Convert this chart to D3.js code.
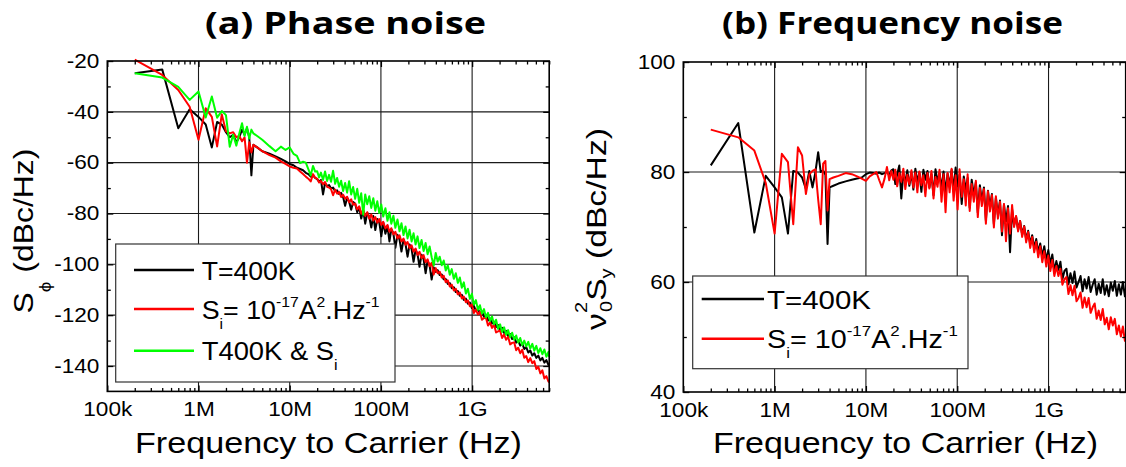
<!DOCTYPE html>
<html>
<head>
<meta charset="utf-8">
<script src="https://cdn.jsdelivr.net/npm/d3@7"></script>
<style>
  body { margin: 0; background: #fff; }
  svg text { font-family: "Liberation Sans", Arial, sans-serif; fill: #000; white-space: pre; }
</style>
</head>
<body>
<svg id="chart" width="1126" height="467"></svg>
<script>
// ---- frequency grids (MHz) ----
var freqLow = [0.2,0.4,0.6,0.8,1.0,1.2,1.4,1.6,1.8,2.0,2.2,2.4,2.6,2.8,3.0,3.2,3.4,3.6,3.8,4.0,
               4.4,5,6,7,8,9,10,11,12,13,14,15,16,17,18,19];
var freqHigh = [20,21,22,23.2,24.4,25.7,27,28.4,29.9,31.5,
                33.1,34.8,36.6,38.5,40.5,42.6,44.8,47.2,49.6,52.2,
                55,57.8,60.8,64,67.3,70.8,74.5,78.4,82.5,86.8,
                91.3,96,101,106,112,118,124,130,137,144,
                152,160,168,177,186,196,206,217,228,240,
                252,265,279,294,309,325,342,360,379,399,
                419,441,464,488,514,541,569,598,630,662,
                697,733,771,811,854,898,945,994,1046,1100,
                1158,1218,1282,1349,1419,1493,1571,1653,1739,1830,
                1925,2026,2131,2242,2359,2482,2612,2748,2891,3042,
                3200,3367,3543,3728,3922,4126,4341,4568,4806,5057,
                5320,5598,5890,6197,6520,6860,7000];

// ---- (a) phase noise, dBc/Hz ----
var phaseBlackLow = [-24.8,-23.3,-46.5,-39,-42,-45,-54,-44,-45,-48,
                     -50,-49,-52,-50,-47,-49,-46.5,-50,-65,-53,
                     -54,-55.5,-56.5,-57.5,-58.5,-59.5,-60.5,-61,-62,-62.5,
                     -63,-64,-64.5,-65.5,-65,-66];
var phaseBlackHigh = [-66.5,-67.5,-66.8,-72.5,-68,-69.2,-68.8,-70.2,-69.8,-71.2,
                      -70.9,-72.3,-71.9,-73.5,-77,-73.8,-75.3,-78.5,-75.5,-76.2,
                      -79.5,-77.5,-82,-78.8,-84,-79.7,-81.3,-85.5,-81,-86.5,
                      -82.2,-83.5,-89,-83.5,-88,-84.9,-91,-86.2,-87.8,-93.5,
                      -88.4,-90.3,-95,-90.3,-92,-97,-92.2,-94,-99,-94.2,
                      -96,-101,-96.2,-98,-103.5,-98.6,-100.5,-106,-101.2,-103,
                      -102.3,-104.2,-104,-105.9,-105.8,-107.7,-107.4,-109.4,-109,-110.9,
                      -110.5,-112.4,-112,-114,-113.5,-115.5,-115,-117.2,-116.3,-118.3,
                      -117.4,-119.4,-118.6,-120.6,-119.9,-122.1,-121.3,-123.3,-122.6,-124.7,
                      -123.9,-125.9,-125,-127,-126.2,-128.2,-127.4,-129.4,-128.7,-130.8,
                      -130,-132,-131.2,-133.3,-132.6,-134.7,-133.9,-135.9,-135,-136.8,
                      -135.9,-137.8,-136.8,-138.7,-137.7,-139.6,-138.8];
var phaseRedLow = [-19.5,-25.5,-31.4,-38,-51,-38.6,-42,-53.6,-41,-47.6,
                   -48.5,-48,-50,-49.5,-51.6,-50,-60,-52,-56,-53,
                   -54,-55.5,-57,-58,-59.5,-60.5,-61.5,-62,-62.3,-63.5,
                   -64.5,-65.5,-66.3,-67.4,-64.5,-66];
var phaseRedHigh = [-66.3,-67.8,-67.2,-68.5,-67.6,-69.5,-69.8,-70.4,-72.8,-70.6,
                    -72.2,-71.5,-73.5,-72.6,-74.2,-73.4,-75.6,-74.4,-76.5,-76.1,
                    -78.4,-77.2,-80.1,-78.5,-81,-79.5,-82,-80.4,-82.8,-81.4,
                    -83.6,-82.2,-84.5,-83.3,-85.9,-84.5,-87.2,-85.8,-88.2,-87.2,
                    -89.8,-88.6,-91,-89.9,-92.3,-91.2,-93.6,-92.5,-95,-93.8,
                    -96.3,-95.1,-97.6,-96.4,-99.2,-98,-100.7,-99.4,-104,-101.5,
                    -103.5,-102.9,-105.2,-104.5,-107,-106.3,-108.7,-108,-110.3,-109.6,
                    -111.8,-111.1,-113.4,-112.7,-114.9,-114.2,-116.5,-115.8,-119.2,-117.8,
                    -119.7,-118.7,-121.8,-121.1,-121,-124.1,-122.9,-125,-123.7,-126.8,
                    -126.4,-126,-129,-127.6,-129.7,-128.5,-131.5,-130.9,-130.7,-133.8,
                    -132.8,-135,-133.6,-136.8,-136.1,-138.5,-136.9,-138.9,-138.1,-141.2,
                    -140.3,-142.9,-141.7,-144.9,-144,-146.1,-146.5];
var phaseGreenLow = [-24.8,-26.5,-30.2,-35.3,-32,-42.2,-34,-42.3,-39.7,-41.3,
                     -53.7,-49,-53.3,-48.5,-44.5,-49.5,-45.9,-50.5,-47,-48.5,
                     -49.5,-51,-53.5,-55.5,-53.7,-55,-54,-56.5,-57.3,-60.2,
                     -59.6,-60,-62.5,-65,-61.3,-63.5];
var phaseGreenHigh = [-63.4,-65.8,-63.9,-66.8,-63.5,-67.2,-64.8,-67.5,-63.2,-68.3,
                      -66,-69.5,-67.1,-71.2,-68,-71.8,-67.3,-72.5,-69.6,-74.2,
                      -70.3,-75.8,-72,-80.5,-72.5,-76.4,-73.2,-77.8,-74,-78.9,
                      -75.2,-79.8,-76.5,-81.2,-77.9,-82.9,-79.5,-84,-80.9,-85.6,
                      -82.4,-87,-83.8,-88.5,-85.1,-89.8,-86.4,-91,-87.8,-92.2,
                      -89,-93.6,-90.4,-94.8,-91.6,-96,-93,-97.2,-100.5,-95.5,
                      -98.9,-97,-100.4,-98.5,-102.4,-100.4,-104.1,-101.9,-105.7,-103.5,
                      -107.3,-105.2,-109.2,-107.1,-111.5,-109.6,-113.6,-111.6,-115.9,-114.1,
                      -117.9,-116.1,-119.4,-117.6,-120.9,-119.1,-122.3,-120.5,-123.6,-121.8,
                      -125.4,-123.6,-126.6,-124.8,-127.7,-125.9,-128.7,-126.9,-129.7,-128,
                      -130.8,-129,-131.8,-130,-132.3,-130.5,-133.2,-131.3,-134,-132.1,
                      -134.9,-133,-135.4,-133.5,-136.4,-134.5,-136.4];

// ---- (b) frequency noise, dBc/Hz ----
var fnBlackLow = [81.2,88.9,69,79.3,77.2,75.4,68.8,80.2,79.9,79,
                  76.9,80.2,77.2,80,83.6,80,80.3,79.5,66.9,77.2,
                  77.5,77.9,78.3,78.6,78.8,79,79.6,79.9,79.8,79.7,
                  79.9,79.6,79.8,80,79.4,80.3];
var fnBlackHigh = [80.5,77.8,79.6,81.2,75.2,79.8,78.1,80.3,77.5,79.9,
                   76.8,80.6,78.2,79.9,76.4,80.4,78.6,80.2,77.2,79.6,
                   75.8,80.5,78.3,79.8,77,80.1,76.2,79.7,77.5,80.4,
                   76.6,80.8,77.4,79.5,74.2,79.2,76.8,78.9,73.5,78.6,
                   75.9,78.1,72.6,77.6,74.7,77.2,71.2,76.6,73.6,76,
                   70.5,75.3,72.2,74.8,68.5,74.1,71,73.8,65.4,73.2,
                   70.3,71.9,69.5,71.1,68.6,70.2,67.7,69.3,66.9,68.5,
                   66.2,67.8,65.4,67,64.6,66.5,63.9,65.8,63.2,65,
                   62,63.8,62.2,63.7,60.5,62,62.4,59.6,61.6,59.8,
                   61.9,59,60,61.1,58.3,60.5,58.8,60.9,58.2,59.5,
                   60.5,57.7,59.7,58,60.5,57.7,59.4,57.4,59.9,58.4,
                   60.2,57.5,59.6,57.7,60,57.4,58.8];
var fnRedLow = [87.7,86.3,83.9,78,68.8,83.3,81.8,70.5,84.5,83,
                76,79.6,80.2,80.5,75,70.5,81.5,82,73,78.7,
                79,79.3,79.8,79.6,79.2,78.8,78.4,79.2,79.6,80,
                78.5,77.2,78.8,80.9,78.5,80.2];
var fnRedHigh = [78.6,80.4,77.4,79.8,78.2,80.6,76.9,79.5,77.8,80.3,
                 77.2,79.9,76.3,80.1,77.6,79.4,75.6,79.8,77,80.2,
                 75.2,79.1,77.3,80.4,74.6,79.6,72.7,79.8,76.3,80.6,
                 74.8,79.4,73.2,80.5,75.5,78.7,73.9,79.6,72.9,77.8,
                 74.6,78.4,71.8,77.1,73.8,76.9,70.6,76.5,72.8,75.8,
                 69.9,75.6,71.5,74.6,69.2,74.2,67.4,73.4,68.8,74,
                 70,72,69.2,71.1,68.2,70.1,67.2,69.1,66.2,68.2,
                 65.4,67.3,64.5,66.5,63.6,65.6,62.8,64.8,62,64,
                 61.1,62.9,61.1,62.4,59.5,60.5,60.9,57.8,59.4,57.6,
                 59.3,56.5,57.1,58.1,55.3,57.2,55.4,57.1,54.4,55.4,
                 56.1,53.3,54.8,53.1,55.1,52.3,53.5,51.4,53.6,52.1,
                 53.3,50.5,52.1,50.1,51.9,49.3,50.5];

// ---- axes ----
var xMajor = [1e5, 1e6, 1e7, 1e8, 1e9];
var xLabels = ["100k", "1M", "10M", "100M", "1G"];
var xGrid = [1e6, 1e7, 1e8, 1e9];
var phaseYMajor = [-140, -120, -100, -80, -60, -40, -20];
var phaseYMinor = [-130, -110, -90, -70, -50, -30];
var phaseYGrid = [-140, -120, -100, -80, -60, -40];
var fnYMajor = [40, 60, 80, 100];
var fnYMinor = [50, 70, 90];
var fnYGrid = [60, 80];

var xMinor = [];
xMajor.forEach(function(d) {
    for (var k = 2; k <= 9; k++) if (d * k <= 7e9) xMinor.push(d * k);
});

function toPoints(low, high) {
    var f = freqLow.concat(freqHigh), v = low.concat(high);
    if (f.length !== v.length) throw new Error("length mismatch " + f.length + " vs " + v.length);
    return f.map(function(d, i) { return { f: d * 1e6, v: v[i] }; });
}

var svg = d3.select("#chart");

// subscripts / superscripts as tspans
function rich(text, parts, subDy, supDy, small) {
    var off = 0;
    parts.forEach(function(p) {
        var t = text.append("tspan").text(p.t);
        var target = p.k === "sub" ? subDy : (p.k === "sup" ? supDy : 0);
        if (p.k) t.attr("font-size", small);
        if (target - off) t.attr("dy", target - off);
        if (p.dx) t.attr("dx", p.dx);
        off = target;
    });
}

// stretch a text along its own direction to a measured length
function fitText(text, target) {
    var w = text.node().getBBox().width;
    text.attr("transform", text.attr("transform") + " scale(" + (target / w) + ",1)");
}

var siParts = [{t:"S"},{t:"i",k:"sub"},{t:"= 10"},{t:"-17",k:"sup"},{t:"A"},{t:"2",k:"sup"},{t:".Hz"},{t:"-1",k:"sup"}];

var panels = [
  {
    left: 107.3, right: 549.2, top: 61, bottom: 391.4,
    yDomain: [-150, -20], yMajor: phaseYMajor, yMinor: phaseYMinor, yGrid: phaseYGrid,
    title: "(a) Phase noise", titleX: 345.5, titleW: 281,
    xTitleX: 328.5, xTitleW: 387,
    yTitle: [{t:"S"},{t:"\u03D5",k:"sub"},{t:" (dBc/Hz)"}], yTitleX: 33, yTitleY: 231, yTitleW: 165,
    subDy: 18, supDy: -14,
    series: [
      { name: "T=400K", color: "#000000", points: toPoints(phaseBlackLow, phaseBlackHigh) },
      { name: "Si", color: "#ff0000", points: toPoints(phaseRedLow, phaseRedHigh) },
      { name: "T400K & Si", color: "#00ff00", points: toPoints(phaseGreenLow, phaseGreenHigh) }
    ],
    legBox: [115.7, 244, 395, 382], legX1: 134, legX2: 194, legTextX: 201.7,
    legend: [
      { y: 270, parts: [{t:"T=400K"}], w: 94 },
      { y: 309, parts: siParts, w: 178 },
      { y: 350.7, parts: [{t:"T400K & S"},{t:"i",k:"sub"}], w: 136 }
    ]
  },
  {
    left: 683.3, right: 1125.7, top: 62, bottom: 392,
    yDomain: [40, 100], yMajor: fnYMajor, yMinor: fnYMinor, yGrid: fnYGrid,
    title: "(b) Frequency noise", titleX: 892.5, titleW: 341,
    xTitleX: 905.5, xTitleW: 385,
    yTitle: [{t:"\u03BD"},{t:"2",k:"sup"},{t:"0",k:"sub",dx:-8},{t:"S"},{t:"y",k:"sub"},{t:" (dBc/Hz)"}],
    yTitleX: 606, yTitleY: 229, yTitleW: 202,
    subDy: 6, supDy: -19,
    series: [
      { name: "T=400K", color: "#000000", points: toPoints(fnBlackLow, fnBlackHigh) },
      { name: "Si", color: "#ff0000", points: toPoints(fnRedLow, fnRedHigh) }
    ],
    legBox: [692.7, 276, 968, 368.7], legX1: 701.7, legX2: 764, legTextX: 767,
    legend: [
      { y: 299, parts: [{t:"T=400K"}], w: 104 },
      { y: 338.7, parts: siParts, w: 191 }
    ]
  }
];

function drawPanel(p) {
    var x = d3.scaleLog().domain([1e5, 7e9]).range([p.left, p.right]);
    var y = d3.scaleLinear().domain(p.yDomain).range([p.bottom, p.top]);
    var g = svg.append("g");

    // grid
    g.selectAll(".vgrid").data(xGrid).enter().append("line")
        .attr("x1", function(d) { return x(d); }).attr("x2", function(d) { return x(d); })
        .attr("y1", p.top).attr("y2", p.bottom)
        .attr("stroke", "#1a1a1a").attr("stroke-width", 1.1);
    g.selectAll(".hgrid").data(p.yGrid).enter().append("line")
        .attr("x1", p.left).attr("x2", p.right)
        .attr("y1", function(d) { return y(d); }).attr("y2", function(d) { return y(d); })
        .attr("stroke", "#1a1a1a").attr("stroke-width", 1.1);

    // series
    var line = d3.line().x(function(d) { return x(d.f); }).y(function(d) { return y(d.v); });
    p.series.forEach(function(s) {
        g.append("path").datum(s.points)
            .attr("d", line)
            .attr("fill", "none")
            .attr("stroke", s.color)
            .attr("stroke-width", 2)
            .attr("stroke-linejoin", "round");
    });

    // axes (inward ticks on all four sides)
    function mk(axis, tr) {
        var a = g.append("g").attr("transform", tr).call(axis);
        a.select(".domain").remove();
        a.selectAll("line").attr("stroke", "#000").attr("stroke-width", 1.3);
        return a;
    }
    var xb = mk(d3.axisBottom(x).tickValues(xMajor)
                .tickFormat(function(d) { return xLabels[xMajor.indexOf(d)]; })
                .tickSizeInner(-6).tickSizeOuter(0).tickPadding(11), "translate(0," + p.bottom + ")");
    xb.selectAll("text").attr("font-size", 19.5).attr("font-family", null).attr("transform", "scale(1.16,1)");
    mk(d3.axisBottom(x).tickValues(xMinor).tickFormat("").tickSizeInner(-3.5).tickSizeOuter(0), "translate(0," + p.bottom + ")");
    mk(d3.axisTop(x).tickValues(xMajor).tickFormat("").tickSizeInner(-6).tickSizeOuter(0), "translate(0," + p.top + ")");
    mk(d3.axisTop(x).tickValues(xMinor).tickFormat("").tickSizeInner(-3.5).tickSizeOuter(0), "translate(0," + p.top + ")");

    var yl = mk(d3.axisLeft(y).tickValues(p.yMajor)
                .tickFormat(function(d) { return String(d); })
                .tickSizeInner(-6).tickSizeOuter(0).tickPadding(6.8), "translate(" + p.left + ",0)");
    yl.selectAll("text").attr("font-size", 19.5).attr("font-family", null).attr("transform", "scale(1.16,1)");
    mk(d3.axisLeft(y).tickValues(p.yMinor).tickFormat("").tickSizeInner(-3.5).tickSizeOuter(0), "translate(" + p.left + ",0)");
    mk(d3.axisRight(y).tickValues(p.yMajor).tickFormat("").tickSizeInner(-6).tickSizeOuter(0), "translate(" + p.right + ",0)");
    mk(d3.axisRight(y).tickValues(p.yMinor).tickFormat("").tickSizeInner(-3.5).tickSizeOuter(0), "translate(" + p.right + ",0)");
    g.selectAll(".tick text").attr("fill", "#000");

    // frame
    g.append("rect")
        .attr("x", p.left).attr("y", p.top)
        .attr("width", p.right - p.left).attr("height", p.bottom - p.top)
        .attr("fill", "none").attr("stroke", "#000").attr("stroke-width", 1.6);

    // titles
    g.append("text")
        .attr("x", p.titleX).attr("y", 34)
        .attr("text-anchor", "middle")
        .style("font-family", "'Open Sans', 'Liberation Sans', sans-serif")
        .attr("font-weight", 700).attr("font-size", 31)
        .attr("textLength", p.titleW).attr("lengthAdjust", "spacingAndGlyphs")
        .text(p.title);

    g.append("text")
        .attr("x", p.xTitleX).attr("y", 453)
        .attr("text-anchor", "middle").attr("font-size", 29)
        .attr("textLength", p.xTitleW).attr("lengthAdjust", "spacingAndGlyphs")
        .text("Frequency to Carrier (Hz)");

    var yt = g.append("text")
        .attr("transform", "translate(" + p.yTitleX + "," + p.yTitleY + ") rotate(-90)")
        .attr("text-anchor", "middle").attr("font-size", 27);
    rich(yt, p.yTitle, p.subDy, p.supDy, 16);
    fitText(yt, p.yTitleW);

    // legend
    var b = p.legBox;
    g.append("rect")
        .attr("x", b[0]).attr("y", b[1]).attr("width", b[2] - b[0]).attr("height", b[3] - b[1])
        .attr("fill", "#fff").attr("stroke", "#333").attr("stroke-width", 1.2);
    p.legend.forEach(function(item, i) {
        g.append("line")
            .attr("x1", p.legX1).attr("x2", p.legX2)
            .attr("y1", item.y).attr("y2", item.y)
            .attr("stroke", p.series[i].color).attr("stroke-width", 2.5);
        var lt = g.append("text")
            .attr("transform", "translate(" + p.legTextX + "," + (item.y + 9.5) + ")")
            .attr("font-size", 25.5);
        rich(lt, item.parts, 10, -12, 15);
        fitText(lt, item.w);
    });
}

panels.forEach(drawPanel);
</script>
</body>
</html>
